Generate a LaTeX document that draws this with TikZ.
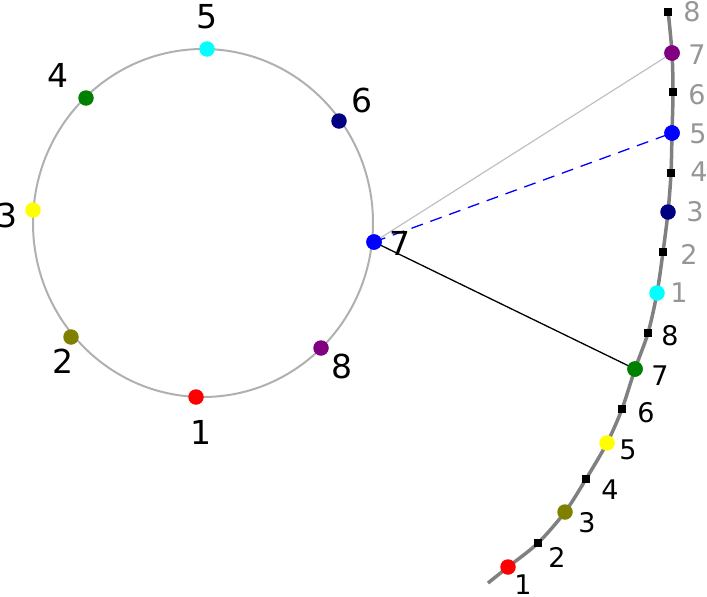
\documentclass[tikz,border=0pt]{standalone}
\usepackage{fontspec}
\setmainfont{DejaVu Sans}
\definecolor{olivec}{RGB}{128,128,0}
\definecolor{greenc}{RGB}{0,128,0}
\definecolor{navyc}{RGB}{0,0,128}
\definecolor{purplec}{RGB}{128,0,128}
\definecolor{cyanc}{RGB}{0,255,255}
\definecolor{yellowc}{RGB}{255,255,0}
\definecolor{ringgray}{RGB}{176,176,176}
\definecolor{curvegray}{RGB}{128,128,128}
\definecolor{labgray}{RGB}{150,150,150}
\begin{document}
\begin{tikzpicture}[x=1pt,y=-1pt,
  dot/.style={circle,inner sep=0pt,minimum size=15.5pt,fill=#1},
  sq/.style={rectangle,inner sep=0pt,minimum size=8pt,fill=black},
  biglab/.style={font=\fontsize{33}{33}\selectfont,inner sep=0pt},
  smalllab/.style={font=\fontsize{27}{27}\selectfont,inner sep=0pt},
  greylab/.style={smalllab,text=labgray}]
\useasboundingbox (0,0) rectangle (707,597);
% ring
\draw[ringgray,line width=2pt] (203,223) ellipse [x radius=170, y radius=174];
% curve
\draw[curvegray,line width=3.5pt] plot[smooth] coordinates {(488,583) (508,567) (538,543) (565,512) (586,479) (607,443) (622,409) (635,369) (648,333) (657,293) (663,252) (668,212) (671,173) (672,133) (673,92) (672,53) (668,10)};
% ring dots
\node[dot=red] (c1) at (196,397) {};
\node[dot=olivec] (c2) at (71,337) {};
\node[dot=yellowc] (c3) at (33,210) {};
\node[dot=greenc] (c4) at (86,98) {};
\node[dot=cyanc] (c5) at (207,49) {};
\node[dot=navyc] (c6) at (339,121) {};
\node[dot=purplec] (c8) at (321,348) {};
% curve dots
\node[dot=red] (r1) at (508,567) {};
\node[dot=olivec] (r3) at (565,512) {};
\node[dot=yellowc] (r5) at (607,443) {};
\node[dot=greenc] (r7) at (635,369) {};
\node[dot=cyanc] (g1) at (657,293) {};
\node[dot=navyc] (g3) at (668,212) {};
\node[dot=blue] (g5) at (672,133) {};
\node[dot=purplec] (g7) at (672,53) {};
% squares
\node[sq] (s2) at (538,543) {};
\node[sq] (s4) at (586,479) {};
\node[sq] (s6) at (622,409) {};
\node[sq] (s8) at (648,333) {};
\node[sq] (t2) at (663,252) {};
\node[sq] (t4) at (671,173) {};
\node[sq] (t6) at (673,92) {};
\node[sq] (t8) at (668,12) {};
% connectors
\node[dot=blue] (c7) at (374,242) {};
\draw[ringgray!80,line width=1.2pt] (c7.center) -- (g7.center);
\draw[blue,line width=1.3pt,dash pattern=on 12pt off 8pt] (c7.center) -- (g5.center);
\draw[black,line width=1.3pt] (c7.center) -- (r7.center);
\node[dot=blue] at (c7) {};
\node[dot=greenc] at (r7) {};
\node[dot=blue] at (g5) {};
\node[dot=purplec] at (g7) {};
% ring labels
\node[biglab] (l1) at (201,432) {1};
\node[biglab] (l2) at (63,361) {2};
\node[biglab] (l3) at (7,215) {3};
\node[biglab] (l4) at (58,75) {4};
\node[biglab] (l5) at (207,17) {5};
\node[biglab] (l6) at (362,100) {6};
\node[biglab] (l7) at (400,243) {7};
\node[biglab] (l8) at (342,366) {8};
% curve labels
\node[smalllab] (m1) at (523,585) {1};
\node[smalllab] (m2) at (557,557) {2};
\node[smalllab] (m3) at (587,523) {3};
\node[smalllab] (m4) at (610,490) {4};
\node[smalllab] (m5) at (628,450) {5};
\node[smalllab] (m6) at (646,413) {6};
\node[smalllab] (m7) at (660,376) {7};
\node[smalllab] (m8) at (670,336) {8};
\node[greylab] (n1) at (679,293) {1};
\node[greylab] (n2) at (689,254) {2};
\node[greylab] (n3) at (695,212) {3};
\node[greylab] (n4) at (699,172) {4};
\node[greylab] (n5) at (698,134) {5};
\node[greylab] (n6) at (697,95) {6};
\node[greylab] (n7) at (697,55) {7};
\node[greylab] (n8) at (692,12) {8};
\end{tikzpicture}
\end{document}
